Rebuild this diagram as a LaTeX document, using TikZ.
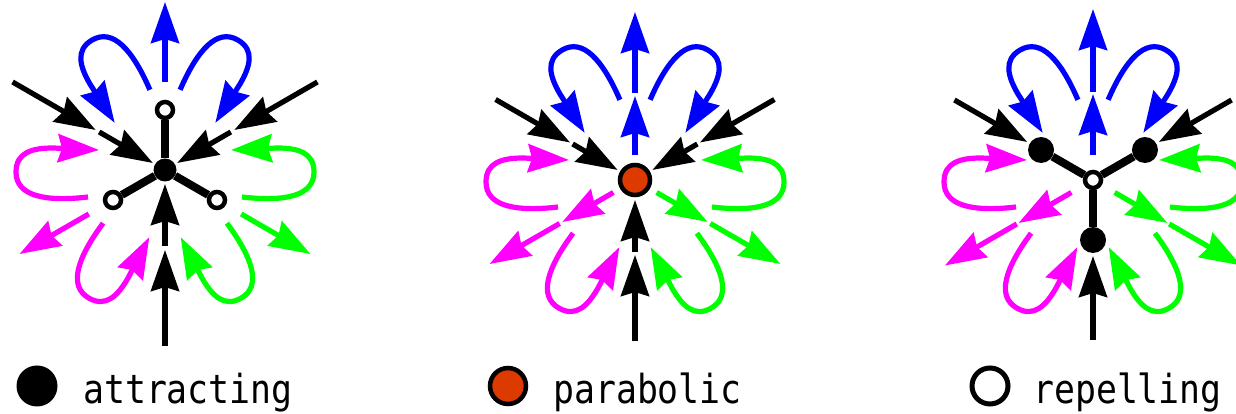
\documentclass[tikz,border=0pt]{standalone}
\usepackage{fontspec}
\newfontfamily\legendfont[FakeStretch=0.87]{DejaVu Sans Mono}
\usetikzlibrary{arrows.meta}
\definecolor{pblue}{RGB}{0,0,255}
\definecolor{pmag}{RGB}{255,0,255}
\definecolor{pgreen}{RGB}{0,255,0}
\definecolor{porange}{RGB}{221,58,0}
\tikzset{
  flow/.style={line width=5.2pt, -{Stealth[length=41pt,width=28pt,inset=4pt]}},
  link/.style={line width=8pt, black},
  petalA/.pic={\draw[flow] (77,-27) .. controls (120,-32) and (149,-26) .. (149,-2) .. controls (149,18) and (132,22) .. (112,22) -- (66,20);},
  petalB/.pic={\draw[flow, yscale=-1] (77,-27) .. controls (120,-32) and (149,-26) .. (149,-2) .. controls (149,18) and (132,22) .. (112,22) -- (66,20);},
  bigdot/.style={circle, fill=black, inner sep=0pt, minimum size=#1},
  ringdot/.style={circle, draw=black, line width=4.5pt, fill=white, inner sep=0pt, minimum size=#1},
  paradot/.style={circle, draw=black, line width=4.5pt, fill=porange, inner sep=0pt, minimum size=#1},
  legtext/.style={anchor=base west, inner sep=0pt, font=\legendfont\fontsize{40}{40}\selectfont},
}
\begin{document}
\begin{tikzpicture}[x=1pt,y=1pt]
\useasboundingbox (0,0) rectangle (1236,414);

% ---------- attracting ----------
\begin{scope}[shift={(165,244)}]
  \foreach \a in {150,30,270} {
    \draw[flow] (\a:176) -- (\a:80);
    \draw[flow] (\a:76) -- (\a:14);
  }
  \foreach \a/\c in {90/pblue,210/pmag,330/pgreen}
    \draw[flow,\c] (\a:88) -- (\a:168);
  \pic[color=pblue, rotate=120] at (0,0) {petalA};
  \pic[color=pblue, rotate=60] at (0,0) {petalB};
  \pic[color=pmag, rotate=180] at (0,0) {petalB};
  \pic[color=pmag, rotate=240] at (0,0) {petalA};
  \pic[color=pgreen, rotate=300] at (0,0) {petalB};
  \pic[color=pgreen, rotate=0] at (0,0) {petalA};
  \node[bigdot=23pt] (a1) at (0,0) {};
  \node[ringdot=16pt] (r1) at (90:60) {};
  \node[ringdot=16pt] (r2) at (210:60) {};
  \node[ringdot=16pt] (r3) at (330:60) {};
  \draw[link] (a1) -- (r1);
  \draw[link] (a1) -- (r2);
  \draw[link] (a1) -- (r3);
\end{scope}

% ---------- parabolic ----------
\begin{scope}[shift={(635,234)}]
  \foreach \a in {150,30,270} {
    \draw[flow] (\a:161) -- (\a:75);
    \draw[flow] (\a:72) -- (\a:20);
  }
  \foreach \a/\c in {90/pblue,210/pmag,330/pgreen} {
    \draw[flow,\c] (\a:25) -- (\a:84);
    \draw[flow,\c] (\a:87) -- (\a:168);
  }
  \pic[color=pblue, rotate=120] at (0,0) {petalA};
  \pic[color=pblue, rotate=60] at (0,0) {petalB};
  \pic[color=pmag, rotate=180] at (0,0) {petalB};
  \pic[color=pmag, rotate=240] at (0,0) {petalA};
  \pic[color=pgreen, rotate=300] at (0,0) {petalB};
  \pic[color=pgreen, rotate=0] at (0,0) {petalA};
  \node[paradot=30pt] (p1) at (0,0) {};
\end{scope}

% ---------- repelling ----------
\begin{scope}[shift={(1093,234)}]
  \foreach \a in {150,30,270}
    \draw[flow] (\a:160) -- (\a:76);
  \foreach \a/\c in {90/pblue,210/pmag,330/pgreen} {
    \draw[flow,\c] (\a:25) -- (\a:86);
    \draw[flow,\c] (\a:88) -- (\a:171);
  }
  \pic[color=pblue, rotate=120] at (0,0) {petalA};
  \pic[color=pblue, rotate=60] at (0,0) {petalB};
  \pic[color=pmag, rotate=180] at (0,0) {petalB};
  \pic[color=pmag, rotate=240] at (0,0) {petalA};
  \pic[color=pgreen, rotate=300] at (0,0) {petalB};
  \pic[color=pgreen, rotate=0] at (0,0) {petalA};
  \node[ringdot=16pt] (c3) at (0,0) {};
  \node[bigdot=26pt] (b1) at (150:60) {};
  \node[bigdot=26pt] (b2) at (30:60) {};
  \node[bigdot=26pt] (b3) at (270:60) {};
  \draw[link] (c3) -- (b1);
  \draw[link] (c3) -- (b2);
  \draw[link] (c3) -- (b3);
\end{scope}

% ---------- legend ----------
\node[bigdot=41pt] (la) at (37,28) {};
\node[legtext] (ta) at (83,10) {attracting};
\node[paradot=36pt] (lp) at (508,28) {};
\node[legtext] (tp) at (553,10) {parabolic};
\node[ringdot=36pt, line width=5pt] (lr) at (990,28) {};
\node[legtext] (tr) at (1033,10) {repelling};
\end{tikzpicture}
\end{document}
